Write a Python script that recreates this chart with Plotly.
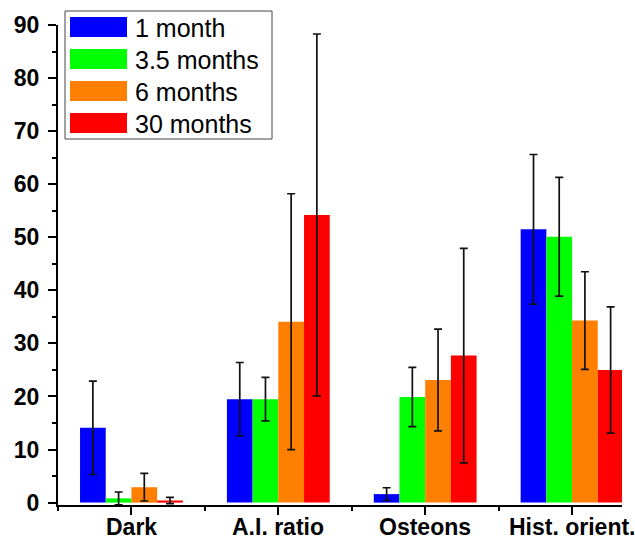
import plotly.graph_objects as go

# Measured fractions per feature and time point, with standard deviations
categories = ["Dark", "A.I. ratio", "Osteons", "Hist. orient."]
series_names = ["1 month", "3.5 months", "6 months", "30 months"]
series_colors = ["#0000FF", "#00FF00", "#FF8000", "#FF0000"]

values_1m = [14.1, 19.5, 1.6, 51.5]
values_3_5m = [0.8, 19.5, 19.9, 50.1]
values_6m = [2.9, 34.1, 23.1, 34.3]
values_30m = [0.4, 54.2, 27.7, 25.0]

err_1m = [8.8, 6.9, 1.2, 14.1]
err_3_5m = [1.2, 4.1, 5.6, 11.2]
err_6m = [2.6, 24.1, 9.6, 9.2]
err_30m = [0.6, 34.1, 20.2, 11.9]

y_ticks = [0, 10, 20, 30, 40, 50, 60, 70, 80, 90]

all_values = [values_1m, values_3_5m, values_6m, values_30m]
all_errors = [err_1m, err_3_5m, err_6m, err_30m]
x_pos = list(range(1, len(categories) + 1))

FONT = "Liberation Sans, Arial, sans-serif"

fig = go.Figure()
for name, color, vals, errs in zip(series_names, series_colors, all_values, all_errors):
    fig.add_trace(go.Bar(
        x=x_pos, y=vals, name=name,
        marker=dict(color=color, line=dict(width=0)),
        error_y=dict(type="data", array=errs, visible=True,
                     color="#111111", thickness=1.7, width=4),
        showlegend=False,
    ))

fig.update_layout(
    width=635, height=542,
    margin=dict(l=58, r=13, t=25, b=37),
    paper_bgcolor="white", plot_bgcolor="white",
    barmode="group", bargap=0.3, bargroupgap=0,
    font=dict(family=FONT, color="black"),
    xaxis=dict(
        range=[0.5, 4.34], tickvals=x_pos, showticklabels=False,
        automargin=False,
        showline=True, linecolor="black", linewidth=2,
        ticks="outside", ticklen=8, tickwidth=2, tickcolor="black",
        showgrid=False, zeroline=False,
        minor=dict(tickvals=[0.5, 1.5, 2.5, 3.5], ticks="outside",
                   ticklen=4, tickwidth=2, tickcolor="black", showgrid=False),
    ),
    yaxis=dict(
        range=[-0.45, 90], tickvals=y_ticks,
        automargin=False,
        showline=True, linecolor="black", linewidth=2,
        ticks="outside", ticklen=8, tickwidth=2, tickcolor="black",
        ticklabelstandoff=4,
        tickfont=dict(family=FONT, size=23, color="black", weight="bold"),
        showgrid=False, zeroline=False,
        minor=dict(dtick=5, tick0=5, ticks="outside", ticklen=4,
                   tickwidth=2, tickcolor="black", showgrid=False),
    ),
)

# Category labels under the axis, anchored to the bottom of the page
for xp, label in zip(x_pos, categories):
    fig.add_annotation(xref="x", yref="paper", x=xp, y=0, yshift=-37,
                       text="<b>%s</b>" % label, showarrow=False,
                       xanchor="center", yanchor="bottom",
                       font=dict(family=FONT, size=23, color="black"))

# Legend box with wide colour swatches, laid out in pixel terms
W, H = 635, 542
pl, pr, pt, pb = 58, 13, 25, 37
pw, ph = W - pl - pr, H - pt - pb


def px_x(x):
    return (x - pl) / pw


def px_y(y):
    return 1 - (y - pt) / ph


fig.add_shape(type="rect", xref="paper", yref="paper",
              x0=px_x(65), x1=px_x(272), y0=px_y(11), y1=px_y(139),
              line=dict(color="#444444", width=1), fillcolor="white")
for i, (name, color) in enumerate(zip(series_names, series_colors)):
    cy = 27 + 32 * i
    fig.add_shape(type="rect", xref="paper", yref="paper",
                  x0=px_x(70), x1=px_x(127), y0=px_y(cy - 10), y1=px_y(cy + 10),
                  line=dict(width=0), fillcolor=color)
    fig.add_annotation(xref="paper", yref="paper", x=px_x(133), y=px_y(cy + 1),
                       text=name, showarrow=False, xanchor="left", yanchor="middle",
                       font=dict(family=FONT, size=25, color="black"))

fig.write_html("out.html")
